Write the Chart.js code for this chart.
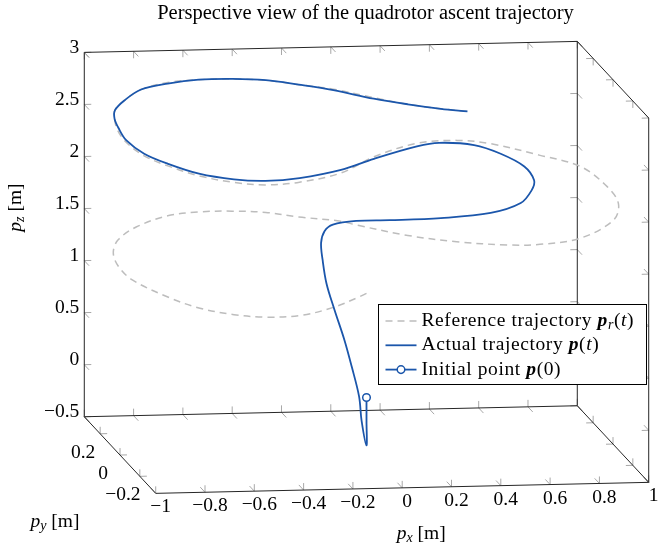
<!DOCTYPE html>
<html>
<head>
<meta charset="utf-8">
<script src="https://cdn.jsdelivr.net/npm/chart.js@4.4.1/dist/chart.umd.min.js"></script>
<style>
  html, body { margin: 0; padding: 0; background: #fff; }
  #wrap { width: 665px; height: 555px; }
</style>
</head>
<body>
<div id="wrap"><canvas id="myChart" width="665" height="555"></canvas></div>
<script>
// reference trajectory p_r(t)
const refX = [0.00,-0.05,-0.18,-0.33,-0.47,-0.59,-0.72,-0.83,-0.95,-0.99,-0.995,-0.96,-0.87,-0.73,-0.60,-0.46,-0.32,-0.19,-0.02,0.04,
  0.24,0.43,0.62,0.74,0.88,0.985,0.99,0.92,0.80,0.62,0.42,0.28,0.12,-0.05,-0.18,-0.34,-0.47,-0.59,-0.72,-0.83,
  -0.91,-0.97,-0.99,-0.99,-0.98,-0.93,-0.85,-0.73,-0.60,-0.46,-0.32,-0.19,-0.05,0.11,0.24,0.37,0.47];
const refY = [0.00,-0.05,-0.12,-0.16,-0.15,-0.13,-0.10,-0.06,0.00,0.04,0.08,0.12,0.16,0.19,0.20,0.21,0.22,0.21,0.21,0.20,
  0.18,0.16,0.12,0.09,0.04,-0.04,-0.08,-0.14,-0.17,-0.20,-0.21,-0.22,-0.21,-0.20,-0.19,-0.17,-0.15,-0.13,-0.10,-0.06,
  -0.02,0.01,0.05,0.08,0.10,0.13,0.16,0.19,0.20,0.21,0.22,0.21,0.21,0.20,0.18,0.17,0.15];
const refZ = [1.00,1.02,1.00,0.97,0.95,0.96,1.00,1.07,1.18,1.27,1.36,1.44,1.52,1.59,1.61,1.60,1.57,1.53,1.48,1.45,
  1.36,1.31,1.31,1.34,1.44,1.69,1.89,2.12,2.35,2.50,2.63,2.68,2.65,2.52,2.36,2.26,2.22,2.23,2.27,2.33,
  2.39,2.49,2.57,2.65,2.71,2.77,2.84,2.87,2.88,2.87,2.84,2.80,2.75,2.67,2.62,2.58,2.57];

// actual trajectory p(t)
const actX = [0,0,0,-0.02,-0.03,-0.06,-0.09,-0.13,-0.15,-0.15,-0.14,-0.11,-0.06,0.04,0.17,0.37,0.56,0.67,0.71,0.68,
  0.60,0.48,0.36,0.21,0.12,-0.05,-0.18,-0.34,-0.47,-0.59,-0.72,-0.83,-0.91,-0.97,-0.99,-0.99,-0.98,-0.93,-0.85,-0.73,
  -0.60,-0.46,-0.32,-0.19,-0.05,0.11,0.24,0.37,0.47];
const actY = [0,0,0,0,0,0,0,0,0.03,0.07,0.11,0.15,0.19,0.20,0.19,0.17,0.14,0.11,0.10,0.00,
  -0.10,-0.16,-0.19,-0.21,-0.21,-0.20,-0.19,-0.17,-0.15,-0.13,-0.10,-0.06,-0.02,0.01,0.04,0.08,0.10,0.13,0.16,0.19,
  0.20,0.21,0.22,0.21,0.21,0.20,0.18,0.17,0.15];
const actZ = [0,-0.23,-0.46,-0.22,0.01,0.30,0.56,0.85,1.07,1.26,1.38,1.45,1.47,1.49,1.50,1.53,1.60,1.72,1.85,2.05,
  2.29,2.48,2.60,2.65,2.62,2.50,2.39,2.30,2.26,2.26,2.29,2.35,2.41,2.51,2.60,2.65,2.71,2.77,2.84,2.86,
  2.88,2.87,2.84,2.80,2.74,2.66,2.62,2.58,2.57];

// initial point p(0)
const initPoint = [0, 0, 0];

// axes
const xTicks = [-1, -0.8, -0.6, -0.4, -0.2, 0, 0.2, 0.4, 0.6, 0.8, 1];
const yTicks = [-0.2, 0, 0.2];
const zTicks = [-0.5, 0, 0.5, 1, 1.5, 2, 2.5, 3];
const xLim = [-1, 1], yLim = [-0.36, 0.36], zLim = [-0.5, 3];

const titleText = 'Perspective view of the quadrotor ascent trajectory';
const BLUE = '#1b56ab';
const GREY = '#bdbdbd';
const SERIF = '"Liberation Serif", "Times New Roman", serif';
const F = (size, style) => (style ? style + ' ' : '') + size + 'px ' + SERIF;
const FS = 19.5, FSUB = 14;

// parallel view onto the picture plane: where the origin lands and one unit of each axis
const view = { o: [366.5, 397.5], ex: [246.5, -5.5], ey: [-99.2, -106.4], ez: [0, -104.1] };
function project(x, y, z) {
  return {
    x: view.o[0] + x * view.ex[0] + y * view.ey[0] + z * view.ez[0],
    y: view.o[1] + x * view.ex[1] + y * view.ey[1] + z * view.ez[1]
  };
}

const refData = refX.map((v, i) => project(v, refY[i], refZ[i]));
const actData = actX.map((v, i) => project(v, actY[i], actZ[i]));
const initData = [project(initPoint[0], initPoint[1], initPoint[2])];

function fmt(v) { return String(v).replace('-', '\u2212'); }

function richWidth(ctx, runs) {
  let w = 0;
  for (const r of runs) { ctx.font = r.font; w += ctx.measureText(r.t).width; }
  return w;
}
function drawRich(ctx, runs, x, y, align) {
  let cx = x;
  if (align === 'center') cx = x - richWidth(ctx, runs) / 2;
  if (align === 'right') cx = x - richWidth(ctx, runs);
  ctx.textAlign = 'left';
  for (const r of runs) {
    ctx.font = r.font;
    ctx.fillText(r.t, cx, y + (r.dy || 0));
    cx += ctx.measureText(r.t).width;
  }
}

const box3d = {
  id: 'box3d',
  beforeDatasetsDraw(chart) {
    const ctx = chart.ctx;
    const sx = chart.scales.x, sy = chart.scales.y;
    const P = (a, b, c) => { const p = project(a, b, c); return { x: sx.getPixelForValue(p.x), y: sy.getPixelForValue(p.y) }; };
    const dir = (a, b, c) => {
      const o = P(0, 0, 0), q = P(a, b, c);
      const l = Math.hypot(q.x - o.x, q.y - o.y);
      return { x: (q.x - o.x) / l, y: (q.y - o.y) / l };
    };
    const D = { x: dir(1, 0, 0), y: dir(0, 1, 0), z: dir(0, 0, 1) };
    const [x0, x1] = xLim, [y0, y1] = yLim, [z0, z1] = zLim;
    const inward = (c, lim) => (c === lim[0] ? 1 : -1);
    const TL = 7;

    ctx.save();
    // tick marks on each drawn edge, pointing into the two adjacent planes
    ctx.strokeStyle = '#a8a8a8';
    ctx.lineWidth = 1;
    const tick = (p, a, sa, b, sb) => {
      ctx.beginPath();
      ctx.moveTo(p.x, p.y); ctx.lineTo(p.x + D[a].x * TL * sa, p.y + D[a].y * TL * sa);
      ctx.moveTo(p.x, p.y); ctx.lineTo(p.x + D[b].x * TL * sb, p.y + D[b].y * TL * sb);
      ctx.stroke();
    };
    [[y0, z0], [y1, z0], [y1, z1]].forEach(([y, z]) =>
      xTicks.forEach(v => tick(P(v, y, z), 'y', inward(y, yLim), 'z', inward(z, zLim))));
    [[x0, z0], [x1, z0], [x1, z1]].forEach(([x, z]) =>
      yTicks.forEach(v => tick(P(x, v, z), 'x', inward(x, xLim), 'z', inward(z, zLim))));
    [[x0, y1], [x1, y1], [x1, y0]].forEach(([x, y]) =>
      zTicks.forEach(v => tick(P(x, y, v), 'x', inward(x, xLim), 'y', inward(y, yLim))));

    // back planes of the box
    ctx.strokeStyle = '#262626';
    ctx.lineWidth = 1;
    const edges = [
      [[x0, y0, z0], [x1, y0, z0]], [[x1, y0, z0], [x1, y1, z0]], [[x1, y1, z0], [x0, y1, z0]], [[x0, y1, z0], [x0, y0, z0]],
      [[x0, y1, z0], [x0, y1, z1]], [[x0, y1, z1], [x1, y1, z1]], [[x1, y1, z1], [x1, y1, z0]],
      [[x1, y1, z1], [x1, y0, z1]], [[x1, y0, z1], [x1, y0, z0]]
    ];
    ctx.beginPath();
    edges.forEach(([a, b]) => {
      const p = P(...a), q = P(...b);
      ctx.moveTo(p.x, p.y); ctx.lineTo(q.x, q.y);
    });
    ctx.stroke();

    // tick labels
    ctx.fillStyle = '#000';
    ctx.font = F(FS);
    ctx.textBaseline = 'middle';
    ctx.textAlign = 'center';
    xTicks.forEach(v => { const p = P(v, y0, z0); ctx.fillText(fmt(v), p.x + 5, p.y + 14); });
    yTicks.forEach(v => { const p = P(x0, v, z0); ctx.fillText(fmt(v), p.x - 17, p.y + 19); });
    ctx.textAlign = 'right';
    zTicks.forEach(v => { const p = P(x0, y1, v); ctx.fillText(fmt(v), p.x - 5, p.y - 4.5); });

    // axis labels
    const lab = s => [
      { t: 'p', font: F(FS, 'italic') },
      { t: s, font: F(FSUB, 'italic'), dy: 4 },
      { t: ' [m]', font: F(FS) }
    ];
    const mx = P(0, y0, z0);
    drawRich(ctx, lab('x'), mx.x + 19, mx.y + 46, 'center');
    const my = P(x0, 0, z0);
    drawRich(ctx, lab('y'), my.x - 65, my.y + 67, 'center');
    const mz = P(x0, y1, (z0 + z1) / 2);
    ctx.save();
    ctx.translate(mz.x - 68, mz.y - 27);
    ctx.rotate(-Math.PI / 2);
    drawRich(ctx, lab('z'), 0, 0, 'center');
    ctx.restore();

    // title
    ctx.font = F(20.5);
    ctx.textAlign = 'center';
    ctx.fillText(titleText, chart.width / 2 + 33, 14);
    ctx.restore();
  },
  afterDatasetsDraw(chart) {
    const ctx = chart.ctx;
    const ds = chart.data.datasets;
    const L = { x: 378.5, y: 304.5, w: 268, h: 80 };
    ctx.save();
    ctx.fillStyle = '#fff';
    ctx.fillRect(L.x, L.y, L.w, L.h);
    ctx.strokeStyle = '#000';
    ctx.lineWidth = 1;
    ctx.strokeRect(L.x, L.y, L.w, L.h);
    const bp = { t: 'p', font: F(FS, 'bold italic') };
    const texts = [
      [{ t: 'Reference trajectory ', font: F(FS) }, bp, { t: 'r', font: F(FSUB, 'italic'), dy: 4 },
        { t: '(', font: F(FS) }, { t: 't', font: F(FS, 'italic') }, { t: ')', font: F(FS) }],
      [{ t: 'Actual trajectory ', font: F(FS) }, bp,
        { t: '(', font: F(FS) }, { t: 't', font: F(FS, 'italic') }, { t: ')', font: F(FS) }],
      [{ t: 'Initial point ', font: F(FS) }, bp, { t: '(0)', font: F(FS) }]
    ];
    ds.forEach((d, i) => {
      const y = L.y + 16.5 + i * 24.3;
      ctx.strokeStyle = d.borderColor;
      ctx.lineWidth = d.borderWidth;
      ctx.setLineDash(d.borderDash || []);
      ctx.beginPath();
      ctx.moveTo(L.x + 7, y); ctx.lineTo(L.x + 38, y);
      ctx.stroke();
      ctx.setLineDash([]);
      if (d.pointRadius > 0) {
        ctx.beginPath();
        ctx.arc(L.x + 22.5, y, d.pointRadius, 0, Math.PI * 2);
        ctx.fillStyle = d.pointBackgroundColor;
        ctx.fill();
        ctx.lineWidth = d.pointBorderWidth;
        ctx.strokeStyle = d.pointBorderColor;
        ctx.stroke();
      }
      ctx.fillStyle = '#000';
      ctx.textBaseline = 'middle';
      if ('letterSpacing' in ctx) ctx.letterSpacing = '0.6px';
      drawRich(ctx, texts[i], L.x + 43, y, 'left');
      if ('letterSpacing' in ctx) ctx.letterSpacing = '0px';
    });
    ctx.restore();
  }
};

new Chart('myChart', {
  type: 'scatter',
  data: {
    datasets: [{
      label: 'Reference trajectory',
      data: refData,
      showLine: true,
      borderColor: GREY,
      borderWidth: 1.5,
      borderDash: [7, 5],
      pointRadius: 0,
      tension: 0.35,
      order: 3
    }, {
      label: 'Actual trajectory',
      data: actData,
      showLine: true,
      borderColor: BLUE,
      borderWidth: 1.8,
      pointRadius: 0,
      tension: 0.35,
      order: 2
    }, {
      label: 'Initial point',
      data: initData,
      showLine: false,
      borderColor: BLUE,
      borderWidth: 1.8,
      pointRadius: 3.8,
      pointBorderWidth: 1.5,
      pointBorderColor: BLUE,
      pointBackgroundColor: '#fff',
      order: 1
    }]
  },
  options: {
    responsive: false,
    devicePixelRatio: 1,
    animation: false,
    events: [],
    layout: { padding: 0, autoPadding: false },
    scales: {
      x: { type: 'linear', min: 0, max: 665, display: false },
      y: { type: 'linear', min: 0, max: 555, reverse: true, display: false }
    },
    plugins: { legend: { display: false }, tooltip: { enabled: false }, title: { display: false } }
  },
  plugins: [box3d]
});
</script>
</body>
</html>
